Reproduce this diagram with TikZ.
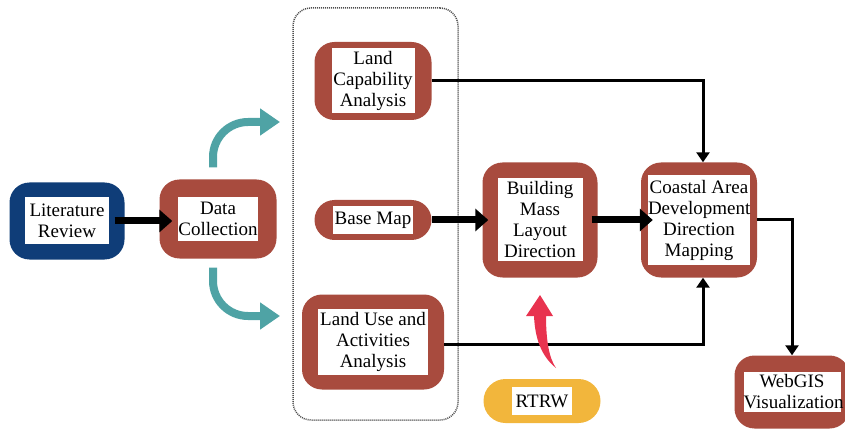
\documentclass[tikz,border=0pt]{standalone}
\usepackage{fontspec}
\setmainfont{Liberation Serif}
\usetikzlibrary{arrows.meta}

\definecolor{brick}{HTML}{A84B3E}
\definecolor{navy}{HTML}{0F3D78}
\definecolor{teal2}{HTML}{4FA3A5}
\definecolor{amber}{HTML}{F2B63C}
\definecolor{rose}{HTML}{E8334F}

\newcommand{\wbox}[3]{{\setlength{\fboxsep}{0pt}\colorbox{white}{\parbox[c][#2][c]{#1}{\centering #3}}}}

\begin{document}
\begin{tikzpicture}[x=1pt, y=-1pt,
    stage/.style={fill=brick, rounded corners=20pt, inner sep=0pt, font=\fontsize{19}{21}\selectfont},
    flow/.style={line width=7pt, -{Triangle[length=13pt,width=22pt]}},
    link/.style={line width=3pt, -{Triangle[length=10pt,width=13pt]}},
    feed/.style={teal2, line width=8pt, rounded corners=35pt, -{Triangle[length=20pt,width=26pt]}}]
    \useasboundingbox (0,0) rectangle (845,430);

    \node[draw=gray!60!black, line width=1.5pt, dash pattern=on 1pt off 1pt, rounded corners=18pt,
        minimum width=165pt, minimum height=412pt] (grp) at (375.5,214) {};

    \node[stage, fill=navy, minimum width=115pt, minimum height=77pt] (lit) at (67,221) {\wbox{84pt}{47pt}{Literature\\Review}};
    \node[stage, minimum width=117pt, minimum height=79pt] (data) at (218,219) {\wbox{80pt}{44pt}{Data\\Collection}};
    \node[stage, minimum width=117pt, minimum height=78pt] (cap) at (373,81) {\wbox{83pt}{65pt}{Land\\Capability\\Analysis}};
    \node[stage, minimum width=117pt, minimum height=40pt] (base) at (373,220) {\wbox{80pt}{28pt}{Base Map}};
    \node[stage, minimum width=142pt, minimum height=95pt] (use) at (373,342) {\wbox{110pt}{66pt}{Land Use and\\Activities\\Analysis}};
    \node[stage, minimum width=115pt, minimum height=115pt] (mass) at (540,220) {\wbox{85pt}{83pt}{Building\\Mass\\Layout\\Direction}};
    \node[stage, minimum width=116pt, minimum height=115pt] (coast) at (699,220) {\wbox{102pt}{90pt}{Coastal Area\\Development\\Direction\\Mapping}};
    \node[stage, minimum width=115pt, minimum height=73pt] (web) at (792,392) {\wbox{97pt}{40pt}{WebGIS\\Visualization}};
    \node[stage, fill=amber, rounded corners=22pt, minimum width=117pt, minimum height=44pt] (rtrw) at (542,401) {\wbox{60pt}{28pt}{RTRW}};

    \coordinate (topend) at (280,122);
    \coordinate (lowend) at (280,316);
    \draw[feed] ([xshift=-5pt,yshift=12pt]data.north) |- (topend);
    \draw[feed] ([xshift=-5pt,yshift=-9pt]data.south) |- (lowend);

    \draw[flow] ([xshift=-10pt]lit.east) -- ([xshift=13pt]data.west |- lit.east);
    \draw[flow] (base.east) -- ([xshift=6pt]mass.west);
    \draw[flow] ([xshift=-6pt]mass.east) -- ([xshift=12pt]coast.west);

    \draw[link] (cap.east) -| ([xshift=4pt]coast.north);
    \draw[link] ([yshift=-2pt]use.east) -| ([xshift=4pt]coast.south);
    \draw[link] (coast.east) -| (web.north);

    \fill[rose] (556,368) .. controls (541,356) and (535,338) .. (534,316) -- (526,316) -- (540,295)
        -- (553,316) -- (546,316) .. controls (546,340) and (549,358) .. (556,368) -- cycle;
\end{tikzpicture}
\end{document}
